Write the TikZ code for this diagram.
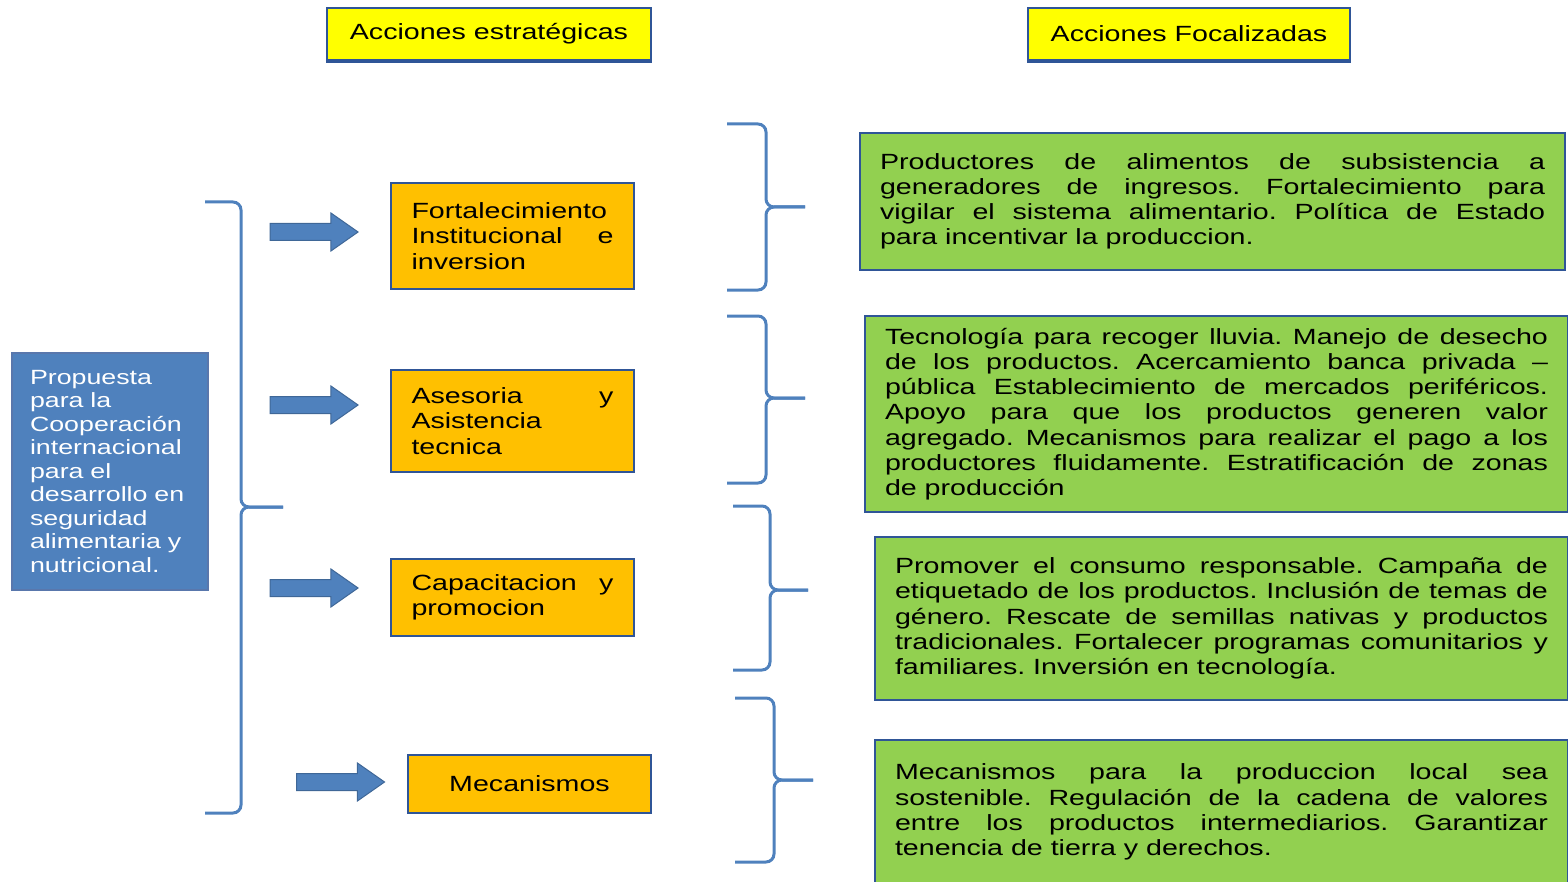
\documentclass[tikz,border=0pt]{standalone}
\usepackage{fontspec}
\newfontfamily\boxfont{Liberation Sans}[FakeStretch=1.3]
\usetikzlibrary{shapes.arrows}

\definecolor{azul}{HTML}{4F81BD}
\definecolor{azulosc}{HTML}{2F5597}
\definecolor{naranja}{HTML}{FFC000}
\definecolor{verde}{HTML}{92D050}
\definecolor{amarillo}{HTML}{FFFF00}

\newcommand\ajuste{\frenchspacing\tolerance=9999\relax\hyphenpenalty=10000\relax}

\tikzset{
	titulo/.style={draw=azulosc, line width=1.2pt, fill=amarillo, inner sep=0pt,
		font=\boxfont\fontsize{11}{12.6}\selectfont},
	propuesta/.style={draw=azulosc!80, line width=1pt, fill=azul, text=white, inner sep=0pt,
		text width=80pt, align=left, minimum width=98pt, minimum height=118.5pt,
		font=\boxfont\fontsize{10.3}{11.75}\selectfont},
	estrategia/.style={draw=azulosc, line width=1pt, fill=naranja, inner sep=0pt,
		minimum width=121.5pt, text width=101pt, align=justify,
		font=\boxfont\fontsize{11}{12.6}\selectfont\ajuste},
	foco/.style={draw=azulosc, line width=1pt, fill=verde, inner sep=0pt, align=justify,
		font=\boxfont\fontsize{11}{12.6}\selectfont\ajuste},
	flecha/.style={single arrow, fill=azul, draw=azul!80!black, line width=0.5pt,
		minimum height=44pt, minimum width=0pt, inner sep=4pt,
		single arrow head extend=5.25pt, single arrow tip angle=70},
	llave/.style={draw=azul, line width=1.5pt, rounded corners=4pt}
}

\begin{document}
\begin{tikzpicture}[x=0.5pt,y=-0.5pt]
	\useasboundingbox (0,0) rectangle (1568,882);
	% titulos
	\node[titulo, minimum width=162pt, minimum height=26pt] (H1) at (489,34) {Acciones estratégicas};
	\node[titulo, minimum width=161pt, minimum height=26pt] (H2) at (1189,34) {Acciones Focalizadas};
	\draw[azulosc, line width=1.5pt] (H1.south west) -- (H1.south east);
	\draw[azulosc, line width=1.5pt] (H2.south west) -- (H2.south east);

	% propuesta
	\node[propuesta] (P) at (110,471.5) {Propuesta\\ para la\\ Cooperación\\ internacional\\ para el\\ desarrollo en\\ seguridad\\ alimentaria y\\ nutricional.};

	% llave grande
	\draw[llave] (205,202) -| (241,507) -- (283,507);
	\draw[llave] (205,813) -| (241,507) -- (283,507);

	% flechas
	\node[flecha] (A1) at (308,232) {};
	\node[flecha] (A2) at (308,405) {};
	\node[flecha] (A3) at (308,588) {};
	\node[flecha] (A4) at (334.5,782) {};

	% acciones estrategicas
	\node[estrategia, minimum height=53pt] (E1) at (512.5,236) {Fortalecimiento\linebreak Institucional e\linebreak inversion};
	\node[estrategia, minimum height=51pt] (E2) at (512.5,421) {Asesoria y\linebreak Asistencia\linebreak tecnica};
	\node[estrategia, minimum height=38.5pt] (E3) at (512.5,597.5) {Capacitacion y\linebreak promocion};
	\node[estrategia, minimum height=29pt, align=center] (E4) at (529.5,784) {Mecanismos};

	% llaves
	\draw[llave] (727,124) -| (766,207) -- (805,207);
	\draw[llave] (727,290) -| (766,207) -- (805,207);
	\draw[llave] (727,316) -| (766,398) -- (805,398);
	\draw[llave] (727,483) -| (766,398) -- (805,398);
	\draw[llave] (733,506) -| (770,590) -- (808,590);
	\draw[llave] (733,670) -| (770,590) -- (808,590);
	\draw[llave] (735,698) -| (774,780) -- (813,780);
	\draw[llave] (735,862) -| (774,780) -- (813,780);

	% acciones focalizadas
	\node[foco, minimum width=352.5pt, minimum height=68.5pt, text width=332.5pt] (F1) at (1212.5,201.5)
		{Productores de alimentos de subsistencia a\linebreak generadores de ingresos. Fortalecimiento para\linebreak vigilar el sistema alimentario. Política de Estado\linebreak para incentivar la produccion.};
	\node[foco, minimum width=351.5pt, minimum height=98pt, text width=331.5pt] (F2) at (1216.5,414)
		{Tecnología para recoger lluvia. Manejo de desecho\linebreak de los productos. Acercamiento banca privada –\linebreak pública Establecimiento de mercados periféricos.\linebreak Apoyo para que los productos generen valor\linebreak agregado. Mecanismos para realizar el pago a los\linebreak productores fluidamente. Estratificación de zonas\linebreak de producción};
	\node[foco, minimum width=346.5pt, minimum height=81.5pt, text width=326.5pt] (F3) at (1221.5,618.5)
		{Promover el consumo responsable. Campaña de\linebreak etiquetado de los productos. Inclusión de temas de\linebreak género. Rescate de semillas nativas y productos\linebreak tradicionales. Fortalecer programas comunitarios y\linebreak familiares. Inversión en tecnología.};
	\node[foco, minimum width=346.5pt, minimum height=72pt, text width=326.5pt] (F4) at (1221.5,812)
		{Mecanismos para la produccion local sea\linebreak sostenible. Regulación de la cadena de valores\linebreak entre los productos intermediarios. Garantizar\linebreak tenencia de tierra y derechos.};
\end{tikzpicture}
\end{document}
